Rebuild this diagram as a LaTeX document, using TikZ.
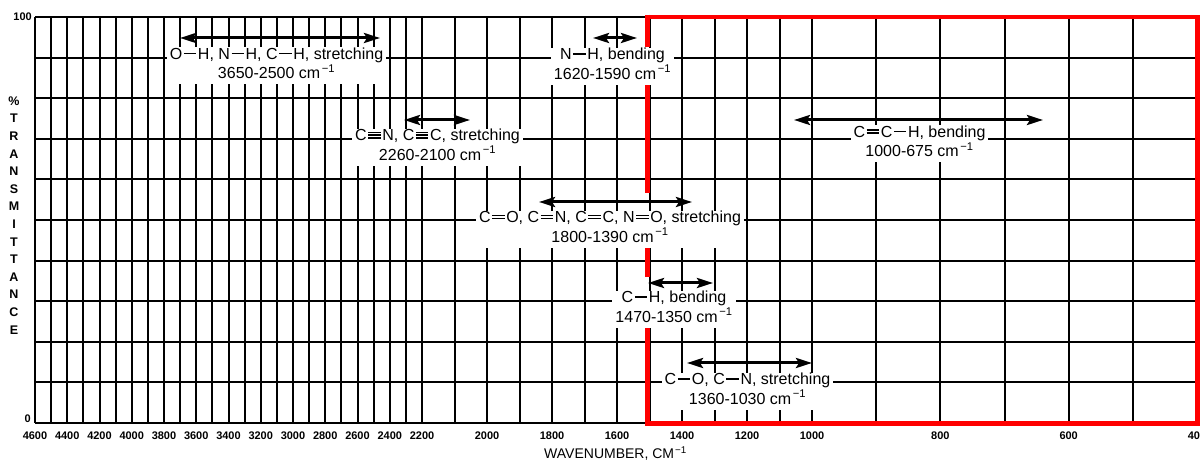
\documentclass[tikz,border=0pt]{standalone}
\usepackage{fontspec}
\setmainfont{Liberation Sans}
\usetikzlibrary{arrows.meta}
\definecolor{framered}{RGB}{255,0,0}
\def\bondS{\kern1.6bp\rule[5.1bp]{12.5bp}{1.4bp}\kern1.6bp}
\def\bondD{\kern1.6bp\rlap{\rule[3.6bp]{12.5bp}{1.4bp}}\rule[6.6bp]{12.5bp}{1.4bp}\kern1.6bp}
\def\bondT{\kern1.6bp\rlap{\rule[2.4bp]{12.5bp}{1.4bp}}\rlap{\rule[5.1bp]{12.5bp}{1.4bp}}\rule[7.8bp]{12.5bp}{1.4bp}\kern1.6bp}
\def\invcm{cm\kern1.5bp\textsuperscript{−1}}
\tikzset{
	gridline/.style={line width=2bp},
	band/.style={line width=3bp, {Stealth[length=16bp,width=10bp,inset=3bp]}-{Stealth[length=16bp,width=10bp,inset=3bp]}},
	bandlabel/.style={fill=white, inner xsep=3bp, inner ysep=0.5bp, anchor=base, font=\fontsize{16bp}{17bp}\selectfont},
	ticklabel/.style={anchor=base, inner sep=0pt, font=\fontsize{11bp}{12bp}\selectfont\bfseries},
	axisletter/.style={inner sep=0pt, font=\fontsize{12.5bp}{13bp}\selectfont\bfseries}
}

\begin{document}
\begin{tikzpicture}[x=1bp, y=-1bp]
			%%%%% START %%%%%
			\useasboundingbox[fill=white] (0,0) rectangle (1200,461);
			
			% grid
			\foreach \j in {0,...,10}
				\draw[gridline] (35,{17+40.6*\j}) -- (1197,{17+40.6*\j});
			\foreach \i in {1,...,24}
				\draw[gridline] ({35+16.125*\i},17) -- ({35+16.125*\i},423);
			\foreach \i in {1,...,12}
				\draw[gridline] ({422+32.5*\i},17) -- ({422+32.5*\i},423);
			\foreach \i in {1,...,6}
				\draw[gridline] ({812+64.17*\i},17) -- ({812+64.17*\i},423);
			\draw[line width=2.6bp] (35,17) -- (35,423);
			
			% wavenumber scale
			\foreach \i [evaluate=\i as \w using int(4600-100*\i)] in {0,2,...,24}
				\node[ticklabel] (tick\w) at ({35+16.125*\i},439.5) {\w};
			\foreach \i [evaluate=\i as \w using int(2200-100*\i)] in {2,4,...,12}
				\node[ticklabel] (tick\w) at ({422+32.5*\i},439.5) {\w};
			\foreach \i [evaluate=\i as \w using int(1000-100*\i)] in {2,4,6}
				\node[ticklabel] (tick\w) at ({812+64.17*\i},439.5) {\w};
			\node[anchor=base, inner sep=0pt, font=\fontsize{14bp}{15bp}\selectfont] (xlabel) at (615.5,459) {WAVENUMBER, CM\kern1bp\textsuperscript{−1}};
			
			% transmittance scale
			\node[ticklabel, anchor=base east] (top) at (32,21) {100};
			\node[ticklabel, anchor=base east] (zero) at (31,422.5) {0};
			\foreach \c [count=\k from 0] in {\%,T,R,A,N,S,M,I,T,T,A,N,C,E}
				\node[axisletter] (ylet\k) at (14,{101+17.6*\k}) {\c};
			
			% red frame
			\draw[framered, line width=4.5bp] (647.5,17) -- (1197.5,17) -- (1197.5,423.5) -- (645.25,423.5);
			\draw[framered, line width=4.5bp] (647.5,14.75) -- (647.5,47);
			\draw[framered, line width=4.5bp] (647.5,80) -- (647.5,193);
			\draw[framered, line width=4.5bp] (647.5,242) -- (647.5,277);
			\draw[framered, line width=4.5bp] (647.5,327) -- (647.5,423.5);
			
			% bands
			\node[bandlabel] (ohstretch) at (276.5,59.5) {\begin{tabular}[t]{@{}c@{}}O\bondS H, N\bondS H, C\bondS H, stretching\\3650-2500 \invcm\end{tabular}};
			\node[bandlabel] (tripstretch) at (437.5,141) {\begin{tabular}[t]{@{}c@{}}C\bondT N, C\bondT C, stretching\\2260-2100 \invcm\end{tabular}};
			\node[bandlabel] (nhbend) at (612.5,60) {\begin{tabular}[t]{@{}c@{}}N\bondS H, bending\\1620-1590 \invcm\end{tabular}};
			\node[bandlabel] (cchbend) at (919.5,137.5) {\begin{tabular}[t]{@{}c@{}}C\bondD C\bondS H, bending\\1000-675 \invcm\end{tabular}};
			\node[bandlabel] (dblstretch) at (610,223) {\begin{tabular}[t]{@{}c@{}}C\bondD O, C\bondD N, C\bondD C, N\bondD O, stretching\\1800-1390 \invcm\end{tabular}};
			\node[bandlabel] (chbend) at (674,303) {\begin{tabular}[t]{@{}c@{}}C\bondS H, bending\\1470-1350 \invcm\end{tabular}};
			\node[bandlabel] (sglstretch) at (747.5,385) {\begin{tabular}[t]{@{}c@{}}C\bondS O, C\bondS N, stretching\\1360-1030 \invcm\end{tabular}};
			
			\draw[band] (180,38) -- (380,38);
			\draw[band] (404,120) -- (470,120);
			\draw[band] (593,38) -- (637,38);
			\draw[band] (794,120) -- (1043,120);
			\draw[band] (539,202) -- (692,202);
			\draw[band] (648,283) -- (713,283);
			\draw[band] (687,363) -- (812,363);
			%%%%% END %%%%%
\end{tikzpicture}
\end{document}
